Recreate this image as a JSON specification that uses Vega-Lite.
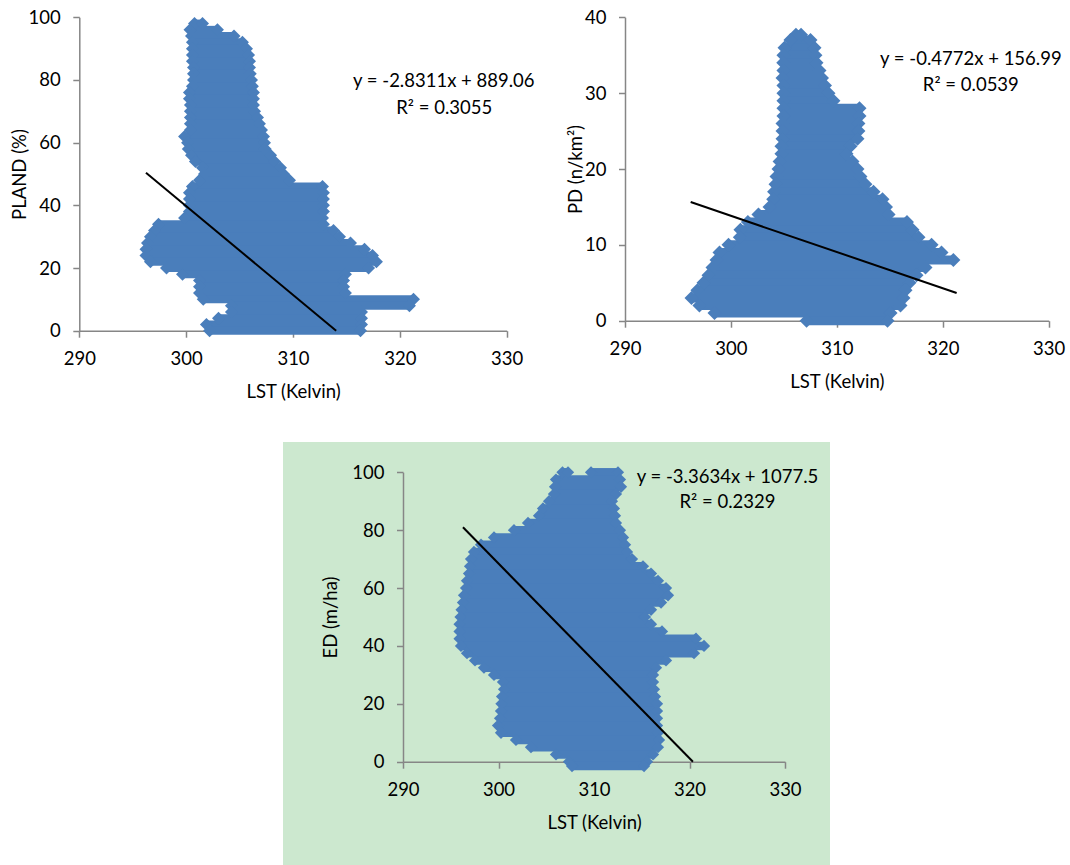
{
  "$schema": "https://vega.github.io/schema/vega-lite/v6.json",
  "padding": 0,
  "background": "white",
  "spacing": 0,
  "bounds": "full",
  "config": {
    "font": "Lato",
    "view": {"stroke": null},
    "concat": {"spacing": 0},
    "axis": {
      "domainColor": "#868686", "domainWidth": 1.5,
      "tickColor": "#868686", "tickWidth": 1.5, "tickSize": 6.5,
      "labelFont": "Lato", "labelFontSize": 18.5, "labelColor": "#000000", "labelPadding": 12.5,
      "labelFlush": false, "labelOverlap": false, "labelBound": false,
      "titleFont": "Lato", "titleFontSize": 18.5, "titleFontWeight": "normal", "titleColor": "#000000",
      "grid": false
    }
  },
  "datasets": {
    "pland": [
      {"v": 98, "lo": 300.78, "hi": 301.53},
      {"v": 96, "lo": 300.36, "hi": 302.93},
      {"v": 94, "lo": 300.5, "hi": 304.48},
      {"v": 92, "lo": 300.59, "hi": 305.27},
      {"v": 90, "lo": 300.59, "hi": 305.65},
      {"v": 88, "lo": 300.59, "hi": 305.84},
      {"v": 86, "lo": 300.59, "hi": 305.93},
      {"v": 84, "lo": 300.69, "hi": 305.93},
      {"v": 82, "lo": 300.69, "hi": 306.0},
      {"v": 80, "lo": 300.69, "hi": 306.12},
      {"v": 78, "lo": 300.59, "hi": 306.2},
      {"v": 76, "lo": 300.31, "hi": 306.3},
      {"v": 74, "lo": 300.31, "hi": 306.3},
      {"v": 72, "lo": 300.4, "hi": 306.3},
      {"v": 70, "lo": 300.4, "hi": 306.4},
      {"v": 68, "lo": 300.4, "hi": 306.68},
      {"v": 66, "lo": 300.4, "hi": 306.86},
      {"v": 64, "lo": 300.4, "hi": 307.05},
      {"v": 62, "lo": 299.85, "hi": 307.24},
      {"v": 60, "lo": 300.13, "hi": 307.33},
      {"v": 58, "lo": 300.2, "hi": 307.4},
      {"v": 56, "lo": 300.5, "hi": 307.9},
      {"v": 54, "lo": 300.87, "hi": 308.27},
      {"v": 52, "lo": 301.53, "hi": 308.83},
      {"v": 50, "lo": 301.72, "hi": 309.11},
      {"v": 48, "lo": 301.25, "hi": 309.67},
      {"v": 46, "lo": 300.59, "hi": 312.76},
      {"v": 44, "lo": 300.31, "hi": 312.85},
      {"v": 42, "lo": 300.31, "hi": 312.85},
      {"v": 40, "lo": 300.31, "hi": 312.85},
      {"v": 38, "lo": 300.31, "hi": 312.85},
      {"v": 36, "lo": 299.85, "hi": 312.76},
      {"v": 34, "lo": 297.41, "hi": 312.85},
      {"v": 32, "lo": 297.04, "hi": 313.79},
      {"v": 30, "lo": 296.66, "hi": 314.35},
      {"v": 28, "lo": 296.38, "hi": 315.38},
      {"v": 26, "lo": 296.24, "hi": 316.69},
      {"v": 24, "lo": 296.24, "hi": 317.44},
      {"v": 22, "lo": 296.66, "hi": 317.81},
      {"v": 20, "lo": 298.16, "hi": 317.07},
      {"v": 18, "lo": 299.66, "hi": 314.91},
      {"v": 16, "lo": 301.25, "hi": 314.73},
      {"v": 14, "lo": 301.25, "hi": 314.73},
      {"v": 12, "lo": 301.25, "hi": 314.91},
      {"v": 10, "lo": 301.6, "hi": 321.28},
      {"v": 8, "lo": 304.24, "hi": 320.9},
      {"v": 6, "lo": 304.24, "hi": 316.41},
      {"v": 4, "lo": 303.03, "hi": 316.41},
      {"v": 2, "lo": 301.9, "hi": 316.41},
      {"v": 0, "lo": 302.19, "hi": 316.32}
    ],
    "pd": [
      {"v": 37.7, "lo": 306.14, "hi": 306.62},
      {"v": 37, "lo": 305.62, "hi": 307.51},
      {"v": 36, "lo": 305.06, "hi": 307.89},
      {"v": 35, "lo": 304.96, "hi": 307.98},
      {"v": 34, "lo": 304.94, "hi": 308.08},
      {"v": 33, "lo": 304.96, "hi": 308.36},
      {"v": 32, "lo": 304.87, "hi": 308.6},
      {"v": 31, "lo": 304.96, "hi": 308.88},
      {"v": 30, "lo": 304.96, "hi": 309.21},
      {"v": 29, "lo": 304.96, "hi": 309.68},
      {"v": 28, "lo": 304.96, "hi": 312.14},
      {"v": 27, "lo": 304.96, "hi": 312.14},
      {"v": 26, "lo": 304.87, "hi": 312.04},
      {"v": 25, "lo": 304.87, "hi": 312.04},
      {"v": 24, "lo": 304.87, "hi": 311.95},
      {"v": 23, "lo": 304.77, "hi": 311.29},
      {"v": 22, "lo": 304.77, "hi": 310.91},
      {"v": 21, "lo": 304.59, "hi": 311.48},
      {"v": 20, "lo": 304.49, "hi": 311.95},
      {"v": 19, "lo": 304.3, "hi": 312.23},
      {"v": 18, "lo": 304.21, "hi": 312.7},
      {"v": 17, "lo": 304.07, "hi": 313.46},
      {"v": 16, "lo": 303.99, "hi": 314.31},
      {"v": 15, "lo": 303.64, "hi": 314.64},
      {"v": 14, "lo": 302.6, "hi": 314.88},
      {"v": 13, "lo": 301.6, "hi": 316.62},
      {"v": 12, "lo": 300.9, "hi": 317.14},
      {"v": 11, "lo": 300.84, "hi": 317.71},
      {"v": 10, "lo": 299.77, "hi": 318.94},
      {"v": 9, "lo": 298.92, "hi": 319.88},
      {"v": 8, "lo": 298.64, "hi": 321.0},
      {"v": 7, "lo": 298.26, "hi": 318.37},
      {"v": 6, "lo": 297.88, "hi": 317.52},
      {"v": 5, "lo": 297.41, "hi": 316.86},
      {"v": 4, "lo": 296.84, "hi": 316.48},
      {"v": 3, "lo": 296.28, "hi": 316.29},
      {"v": 2, "lo": 297.03, "hi": 316.01},
      {"v": 1, "lo": 298.45, "hi": 315.07},
      {"v": 0, "lo": 307.14, "hi": 314.78}
    ],
    "ed": [
      {"v": 100, "lo": 306.7, "hi": 307.28},
      {"v": 100, "lo": 309.69, "hi": 312.51},
      {"v": 97.5, "lo": 306.02, "hi": 312.72},
      {"v": 95, "lo": 305.92, "hi": 312.83},
      {"v": 92.5, "lo": 305.81, "hi": 312.3},
      {"v": 90, "lo": 305.29, "hi": 311.88},
      {"v": 87.5, "lo": 304.66, "hi": 312.09},
      {"v": 85, "lo": 304.24, "hi": 312.2},
      {"v": 82.5, "lo": 303.09, "hi": 312.3},
      {"v": 80, "lo": 301.62, "hi": 312.72},
      {"v": 77.5, "lo": 299.53, "hi": 313.04},
      {"v": 75, "lo": 298.17, "hi": 313.25},
      {"v": 72.5, "lo": 297.43, "hi": 313.46},
      {"v": 70, "lo": 297.12, "hi": 313.98},
      {"v": 67.5, "lo": 297.02, "hi": 315.13},
      {"v": 65, "lo": 296.91, "hi": 315.97},
      {"v": 62.5, "lo": 296.7, "hi": 316.7},
      {"v": 60, "lo": 296.6, "hi": 317.54},
      {"v": 57.5, "lo": 296.39, "hi": 317.75},
      {"v": 55, "lo": 296.28, "hi": 317.02},
      {"v": 52.5, "lo": 296.13, "hi": 315.97},
      {"v": 50, "lo": 296.02, "hi": 315.34},
      {"v": 47.5, "lo": 295.92, "hi": 315.97},
      {"v": 45, "lo": 295.92, "hi": 317.12},
      {"v": 42.5, "lo": 295.92, "hi": 320.68},
      {"v": 40, "lo": 296.07, "hi": 321.52},
      {"v": 37.5, "lo": 296.7, "hi": 320.47},
      {"v": 35, "lo": 297.54, "hi": 317.54},
      {"v": 32.5, "lo": 298.48, "hi": 316.49},
      {"v": 30, "lo": 299.53, "hi": 316.18},
      {"v": 27.5, "lo": 300.47, "hi": 316.18},
      {"v": 25, "lo": 300.58, "hi": 316.28},
      {"v": 22.5, "lo": 300.37, "hi": 316.39},
      {"v": 20, "lo": 300.31, "hi": 316.6},
      {"v": 17.5, "lo": 300.26, "hi": 316.6},
      {"v": 15, "lo": 300.16, "hi": 316.6},
      {"v": 12.5, "lo": 299.95, "hi": 316.6},
      {"v": 10, "lo": 300.26, "hi": 316.7},
      {"v": 7.5, "lo": 301.83, "hi": 316.81},
      {"v": 5, "lo": 303.4, "hi": 316.7},
      {"v": 2.5, "lo": 306.02, "hi": 316.18},
      {"v": 0, "lo": 307.38, "hi": 315.55},
      {"v": -1.5, "lo": 307.7, "hi": 315.24}
    ],
    "trend_pland": [{"lst": 296.24, "v": 50.4}, {"lst": 314.04, "v": 0}],
    "trend_pd": [{"lst": 296.2, "v": 15.64}, {"lst": 321.31, "v": 3.66}],
    "trend_ed": [{"lst": 296.28, "v": 80.99}, {"lst": 320.36, "v": 0}],
    "eq_pland": [{"label": "y = -2.8311x + 889.06", "lst": 324.11, "v": 77.66}, {"label": "R² = 0.3055", "lst": 324.15, "v": 69.14}],
    "eq_pd": [{"label": "y = -0.4772x + 156.99", "lst": 322.65, "v": 33.71}, {"label": "R² = 0.0539", "lst": 322.65, "v": 30.32}],
    "eq_ed": [{"label": "y = -3.3634x + 1077.5", "lst": 323.98, "v": 96.2}, {"label": "R² = 0.2329", "lst": 323.98, "v": 87.56}]
  },
  "vconcat": [
    {
      "spacing": 0,
      "bounds": "flush",
      "hconcat": [
        {
          "width": 540, "height": 442,
          "layer": [
            {
              "data": {"name": "pland"},
              "mark": {"type": "rule", "color": "#4a7ebb", "strokeWidth": 8},
              "encoding": {
                "x": {"field": "lo", "type": "quantitative",
                      "scale": {"domain": [290, 330], "range": [79.3, 506.7], "nice": false, "zero": false},
                      "axis": {"title": "LST (Kelvin)", "values": [290, 300, 310, 320, 330], "offset": -111.3, "titleY": 67, "titleBaseline": "alphabetic"}},
                "x2": {"field": "hi"},
                "y": {"field": "v", "type": "quantitative",
                      "scale": {"domain": [0, 100], "range": [330.7, 17.3], "nice": false, "zero": false},
                      "axis": {"title": "PLAND (%)", "values": [0, 20, 40, 60, 80, 100], "offset": -79.3, "titleX": -53.5, "titleBaseline": "alphabetic"}}
              }
            },
            {
              "data": {"name": "pland"},
              "transform": [{"fold": ["lo", "hi"], "as": ["end", "lst"]}],
              "mark": {"type": "point", "shape": "diamond", "filled": true, "opacity": 1, "size": 169, "color": "#4a7ebb"},
              "encoding": {
                "x": {"field": "lst", "type": "quantitative", "title": "LST (Kelvin)"},
                "y": {"field": "v", "type": "quantitative", "title": "PLAND (%)"}
              }
            },
            {
              "data": {"name": "trend_pland"},
              "mark": {"type": "line", "color": "#000000", "strokeWidth": 2},
              "encoding": {
                "x": {"field": "lst", "type": "quantitative", "title": "LST (Kelvin)"},
                "y": {"field": "v", "type": "quantitative", "title": "PLAND (%)"}
              }
            },
            {
              "data": {"name": "eq_pland"},
              "mark": {"type": "text", "font": "Lato", "fontSize": 18.5, "align": "center", "baseline": "alphabetic", "color": "#000000"},
              "encoding": {
                "x": {"field": "lst", "type": "quantitative", "title": "LST (Kelvin)"},
                "y": {"field": "v", "type": "quantitative", "title": "PLAND (%)"},
                "text": {"field": "label"}
              }
            }
          ]
        },
        {
          "width": 530, "height": 442,
          "layer": [
            {
              "data": {"name": "pd"},
              "mark": {"type": "rule", "color": "#4a7ebb", "strokeWidth": 9},
              "encoding": {
                "x": {"field": "lo", "type": "quantitative",
                      "scale": {"domain": [290, 330], "range": [85, 508.7], "nice": false, "zero": false},
                      "axis": {"title": "LST (Kelvin)", "values": [290, 300, 310, 320, 330], "offset": -121.3, "titleY": 67, "titleBaseline": "alphabetic"}},
                "x2": {"field": "hi"},
                "y": {"field": "v", "type": "quantitative",
                      "scale": {"domain": [0, 40], "range": [320.7, 17.3], "nice": false, "zero": false},
                      "axis": {"title": "PD (n/km²)", "values": [0, 10, 20, 30, 40], "offset": -85, "titleX": -44, "titleBaseline": "alphabetic"}}
              }
            },
            {
              "data": {"name": "pd"},
              "transform": [{"fold": ["lo", "hi"], "as": ["end", "lst"]}],
              "mark": {"type": "point", "shape": "diamond", "filled": true, "opacity": 1, "size": 196, "color": "#4a7ebb"},
              "encoding": {
                "x": {"field": "lst", "type": "quantitative", "title": "LST (Kelvin)"},
                "y": {"field": "v", "type": "quantitative", "title": "PD (n/km²)"}
              }
            },
            {
              "data": {"name": "trend_pd"},
              "mark": {"type": "line", "color": "#000000", "strokeWidth": 2},
              "encoding": {
                "x": {"field": "lst", "type": "quantitative", "title": "LST (Kelvin)"},
                "y": {"field": "v", "type": "quantitative", "title": "PD (n/km²)"}
              }
            },
            {
              "data": {"name": "eq_pd"},
              "mark": {"type": "text", "font": "Lato", "fontSize": 18.5, "align": "center", "baseline": "alphabetic", "color": "#000000"},
              "encoding": {
                "x": {"field": "lst", "type": "quantitative", "title": "LST (Kelvin)"},
                "y": {"field": "v", "type": "quantitative", "title": "PD (n/km²)"},
                "text": {"field": "label"}
              }
            }
          ]
        }
      ]
    },
    {
      "spacing": 0,
      "bounds": "flush",
      "hconcat": [
        {
          "width": 283, "height": 423,
          "data": {"values": []},
          "mark": "point"
        },
        {
          "width": 547, "height": 423,
          "view": {"fill": "#cce8cf", "stroke": null},
          "layer": [
            {
              "data": {"name": "ed"},
              "mark": {"type": "rule", "color": "#4a7ebb", "strokeWidth": 8.5},
              "encoding": {
                "x": {"field": "lo", "type": "quantitative",
                      "scale": {"domain": [290, 330], "range": [120, 502], "nice": false, "zero": false},
                      "axis": {"title": "LST (Kelvin)", "values": [290, 300, 310, 320, 330], "offset": -103.3, "titleY": 67, "titleBaseline": "alphabetic"}},
                "x2": {"field": "hi"},
                "y": {"field": "v", "type": "quantitative",
                      "scale": {"domain": [0, 100], "range": [319.7, 30.3], "nice": false, "zero": false},
                      "axis": {"title": "ED (m/ha)", "values": [0, 20, 40, 60, 80, 100], "offset": -120, "titleX": -67, "titleBaseline": "alphabetic"}}
              }
            },
            {
              "data": {"name": "ed"},
              "transform": [{"fold": ["lo", "hi"], "as": ["end", "lst"]}],
              "mark": {"type": "point", "shape": "diamond", "filled": true, "opacity": 1, "size": 150, "color": "#4a7ebb"},
              "encoding": {
                "x": {"field": "lst", "type": "quantitative", "title": "LST (Kelvin)"},
                "y": {"field": "v", "type": "quantitative", "title": "ED (m/ha)"}
              }
            },
            {
              "data": {"name": "trend_ed"},
              "mark": {"type": "line", "color": "#000000", "strokeWidth": 2},
              "encoding": {
                "x": {"field": "lst", "type": "quantitative", "title": "LST (Kelvin)"},
                "y": {"field": "v", "type": "quantitative", "title": "ED (m/ha)"}
              }
            },
            {
              "data": {"name": "eq_ed"},
              "mark": {"type": "text", "font": "Lato", "fontSize": 18.5, "align": "center", "baseline": "alphabetic", "color": "#000000"},
              "encoding": {
                "x": {"field": "lst", "type": "quantitative", "title": "LST (Kelvin)"},
                "y": {"field": "v", "type": "quantitative", "title": "ED (m/ha)"},
                "text": {"field": "label"}
              }
            }
          ]
        }
      ]
    }
  ]
}
